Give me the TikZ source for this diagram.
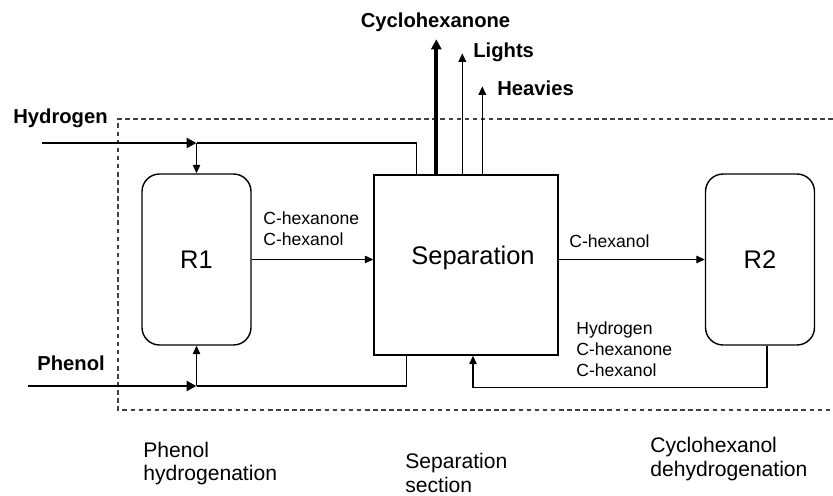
\documentclass[tikz,border=0pt]{standalone}
\usepackage{fontspec}
\setmainfont{Liberation Sans}
\usetikzlibrary{arrows.meta, positioning, calc}

\begin{document}
\begin{tikzpicture}[
    reactor/.style={draw=black, line width=0.8pt, rounded corners=10pt, minimum width=2.18cm, minimum height=3.42cm, font=\fontsize{14.5}{16}\selectfont},
    unitbox/.style={draw=black, line width=0.8pt, minimum width=3.68cm, minimum height=3.6cm},
    feed/.style={font=\fontsize{11.5}{13}\selectfont\bfseries, inner sep=0pt},
    stream/.style={font=\fontsize{10}{12}\selectfont, align=left, anchor=west, inner sep=0pt},
    areaname/.style={font=\fontsize{12}{13.6}\selectfont, align=left, anchor=west, inner sep=0pt},
    flow/.style={draw=black, line width=0.7pt, -{Triangle[length=1.7mm, width=1.5mm]}},
    pipe/.style={draw=black, line width=0.7pt},
    mainflow/.style={draw=black, line width=1.7pt, -{Triangle[length=2mm, width=2mm]}},
    boundary/.style={draw=black!75, line width=0.6pt, dash pattern=on 2.6pt off 2pt}
]
\useasboundingbox (0,0) rectangle (16.66,9.9);

% Process boundary
\draw[boundary] (16.66,7.52) -- (2.36,7.52) -- (2.36,1.70) -- (16.66,1.70);

% Units
\node[reactor] (R1) at (3.93,4.71) {R1};
\node[unitbox] (sep) at (9.32,4.6) {};
\node[font=\fontsize{14.5}{16}\selectfont] (sepLabel) at (9.46,4.74) {Separation};
\node[reactor] (R2) at (15.2,4.71) {R2};

% Feeds
\node[feed, anchor=west] (h2Label) at (0.26,7.54) {Hydrogen};
\node[feed, anchor=west] (phLabel) at (0.74,2.64) {Phenol};
\coordinate (h2In) at (0.84,7.04);
\coordinate (phIn) at (0.56,2.18);
\coordinate (h2Split) at (R1.north |- h2In);
\coordinate (phSplit) at (R1.south |- phIn);

\draw[mainflow] (h2In) -- (h2Split);
\draw[flow] (h2Split) -- (R1.north);
\draw[pipe] ($(sep.north west)+(0.86,0)$) |- (h2Split);

\draw[mainflow] (phIn) -- (phSplit);
\draw[flow] (phSplit) -- (R1.south);
\draw[pipe] ($(sep.south west)+(0.66,0)$) |- (phSplit);

% Products
\node[feed] (cyLabel) at (8.71,9.46) {Cyclohexanone};
\node[feed, anchor=west] (ltLabel) at (9.46,8.86) {Lights};
\node[feed, anchor=west] (hvLabel) at (9.94,8.14) {Heavies};
\draw[mainflow, line width=2.2pt] ($(sep.north west)+(1.26,0)$) -- ++(0,2.7);
\draw[flow, line width=0.9pt] ($(sep.north west)+(1.78,0)$) -- ++(0,2.42);
\draw[flow, line width=0.9pt] ($(sep.north west)+(2.18,0)$) -- ++(0,1.76);

% Internal streams
\draw[flow] (R1.east) -- (R1.east -| sep.west);
\node[stream] (r1Out) at (5.26,5.33) {C-hexanone\\C-hexanol};
\draw[flow] (sep.east |- R2.west) -- (R2.west);
\node[stream] (sepOut) at (11.38,5.08) {C-hexanol};
\draw[flow] ($(R2.south)+(0.14,0)$) -- ++(0,-0.84) -| ($(sep.south)+(0.14,0)$);
\node[stream] (retLabel) at (11.52,2.92) {Hydrogen\\C-hexanone\\C-hexanol};

% Sections
\node[areaname] (rxn1Area) at (2.86,0.63) {Phenol\\hydrogenation};
\node[areaname] (sepArea) at (8.1,0.44) {Separation\\section};
\node[areaname] (rxn2Area) at (13.0,0.72) {Cyclohexanol\\dehydrogenation};

\end{tikzpicture}
\end{document}
